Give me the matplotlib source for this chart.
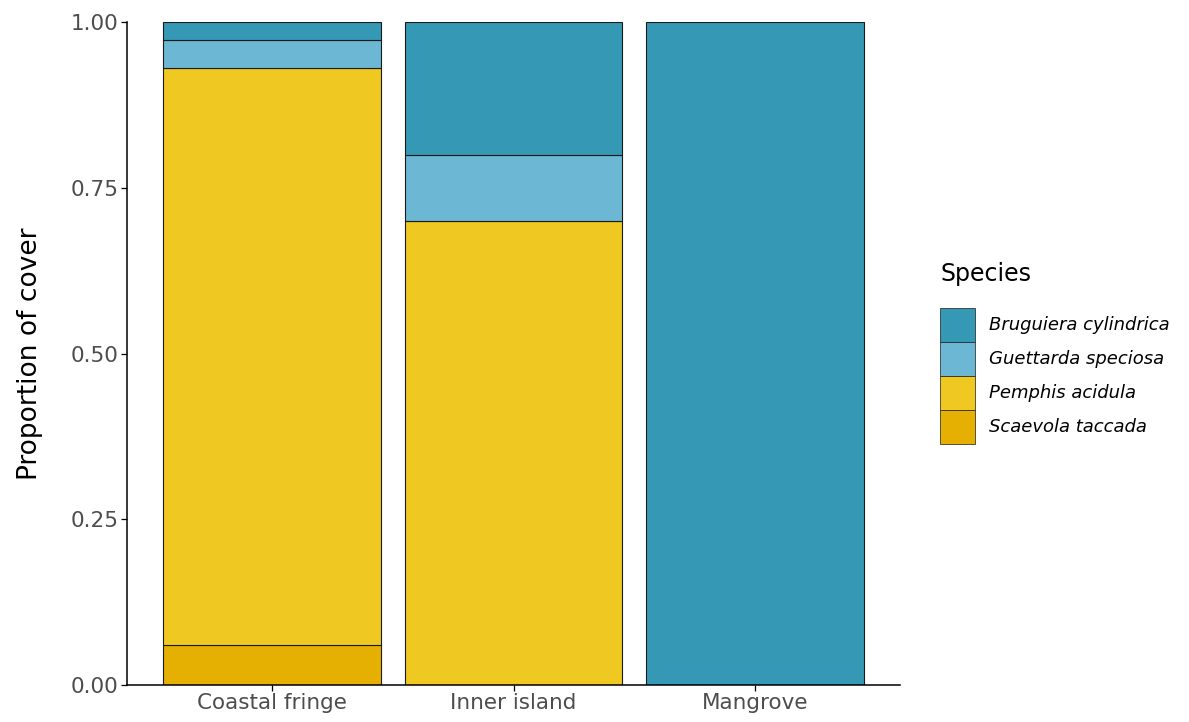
import matplotlib.pyplot as plt
from matplotlib.patches import Patch
import numpy as np

habitats = ['Coastal fringe', 'Inner island', 'Mangrove']
species = ['Bruguiera cylindrica', 'Guettarda speciosa', 'Pemphis acidula', 'Scaevola taccada']

# proportion of cover per habitat, one list per species
bruguiera = [0.027, 0.20, 1.0]
guettarda = [0.043, 0.10, 0.0]
pemphis = [0.87, 0.70, 0.0]
scaevola = [0.06, 0.0, 0.0]

colors = {'Bruguiera cylindrica': '#3598b4',
          'Guettarda speciosa': '#6cb7d3',
          'Pemphis acidula': '#efc822',
          'Scaevola taccada': '#e6b002'}

plt.rcParams['font.family'] = ['DejaVu Sans']

fig = plt.figure(figsize=(11.89, 7.22), dpi=100)
ax = fig.add_axes([0.1068, 0.0512, 0.757 - 0.1068, 0.9695 - 0.0512])

x = np.arange(1, len(habitats) + 1)
stack = [('Scaevola taccada', scaevola), ('Pemphis acidula', pemphis),
         ('Guettarda speciosa', guettarda), ('Bruguiera cylindrica', bruguiera)]
bottom = np.zeros(len(habitats))
for name, vals in stack:
    vals = np.array(vals)
    ax.bar(x, vals, width=0.9, bottom=bottom, color=colors[name],
           edgecolor='#1a1a1a', linewidth=0.8)
    bottom += vals

ax.set_xlim(0.4, 3.6)
ax.set_ylim(0, 1)
ax.set_xticks(x)
ax.set_xticklabels(habitats)
ax.set_yticks([0, 0.25, 0.5, 0.75, 1.0])
ax.set_yticklabels(['0.00', '0.25', '0.50', '0.75', '1.00'])
ax.tick_params(axis='both', labelsize=15.5, colors='black', labelcolor='#4d4d4d',
               length=4, width=0.9, pad=2)
ax.set_ylabel('Proportion of cover', fontsize=19)
ax.yaxis.set_label_coords(-(127 - 30) / (900 - 127), 0.5)
ax.yaxis.label.set_va('center')

for side in ['top', 'right']:
    ax.spines[side].set_visible(False)
for side in ['left', 'bottom']:
    ax.spines[side].set_linewidth(1.1)

fig.text(940 / 1189, 1 - 262 / 722, 'Species', fontsize=17, ha='left', va='top')

handles = [Patch(facecolor=colors[s], edgecolor='#1a1a1a', linewidth=0.5) for s in species]
leg = ax.legend(handles, species, loc='upper left',
                bbox_to_anchor=(940 / 1189, 1 - 308 / 722), bbox_transform=fig.transFigure,
                frameon=False, fontsize=13, labelspacing=0,
                handlelength=1.95, handleheight=2.52, handletextpad=0.75,
                borderpad=0, borderaxespad=0)
for t in leg.get_texts():
    t.set_fontstyle('italic')

fig.savefig('out.png', dpi=100)
